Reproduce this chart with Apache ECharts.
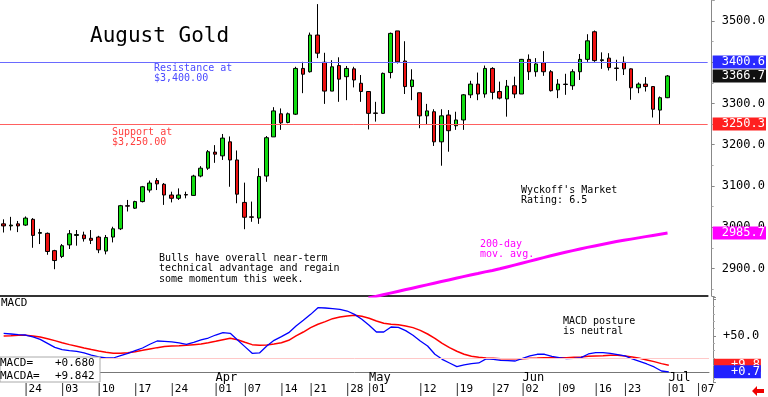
<!DOCTYPE html>
<html>
<head>
<meta charset="utf-8">
<script src="https://cdn.jsdelivr.net/npm/echarts@6/dist/echarts.min.js"></script>
<style>
html,body{margin:0;padding:0;background:#fff;}
#main{width:768px;height:397px;}
</style>
</head>
<body>
<div id="main"></div>
<script>
// trading days (future weekdays at the end are empty slots)
var dates = ['02-19','02-20','02-21','02-24','02-25','02-26','02-27','02-28',
	'03-03','03-04','03-05','03-06','03-07','03-10','03-11','03-12','03-13','03-14','03-17','03-18','03-19','03-20','03-21','03-24','03-25','03-26','03-27','03-28','03-31',
	'04-01','04-02','04-03','04-04','04-07','04-08','04-09','04-10','04-11','04-14','04-15','04-16','04-17','04-21','04-22','04-23','04-24','04-25','04-28','04-29','04-30',
	'05-01','05-02','05-05','05-06','05-07','05-08','05-09','05-12','05-13','05-14','05-15','05-16','05-19','05-20','05-21','05-22','05-23','05-27','05-28','05-29','05-30',
	'06-02','06-03','06-04','06-05','06-06','06-09','06-10','06-11','06-12','06-13','06-16','06-17','06-18','06-20','06-23','06-24','06-25','06-26','06-27','06-30',
	'07-01','07-02','07-03','07-04','07-07','07-08'];

var opens = [3008,3003,3008,3005,3019,2985,2985,2943,2929,2957,2980,2981,2973,2976,2942,2976,2996,3052,3046,3062,
	3090,3113,3104,3078,3070,3079,3077,3124,3143,3182,3173,3207,3163,3060,3025,3022,3124,3219,3275,3254,
	3274,3385,3377,3466,3400,3330,3392,3365,3384,3349,3329,3277,3276,3375,3476,3403,3341,3326,3270,3280,
	3207,3272,3246,3260,3321,3347,3323,3385,3329,3311,3343,3323,3407,3377,3399,3377,3333,3347,3343,3377,
	3407,3474,3404,3410,3386,3400,3384,3338,3347,3341,3284,3314];
var highs = [3019,3025,3015,3026,3022,2996,2987,2945,2959,2993,2993,2989,2993,2979,2981,3001,3054,3066,3064,3100,
	3113,3119,3107,3086,3094,3086,3127,3148,3187,3199,3226,3220,3186,3108,3062,3143,3221,3291,3288,3278,
	3389,3401,3472,3541,3423,3405,3412,3391,3389,3369,3330,3304,3375,3472,3476,3451,3383,3326,3299,3286,
	3286,3284,3280,3323,3355,3375,3392,3388,3353,3357,3365,3408,3419,3410,3427,3381,3359,3372,3383,3420,
	3468,3477,3424,3422,3406,3414,3385,3351,3364,3342,3317,3369];
var lows = [2987,2992,2988,3003,2950,2959,2933,2898,2925,2947,2955,2965,2959,2937,2934,2963,2993,3038,3044,3060,
	3084,3090,3054,3060,3066,3070,3076,3121,3139,3156,3163,3098,3058,2995,3013,3008,3110,3219,3236,3252,
	3272,3325,3375,3410,3299,3330,3304,3308,3339,3304,3237,3256,3275,3361,3397,3323,3308,3240,3248,3197,
	3149,3183,3236,3236,3313,3308,3314,3310,3310,3268,3313,3323,3357,3365,3367,3329,3313,3321,3333,3357,
	3401,3401,3384,3380,3355,3369,3309,3325,3329,3266,3250,3313];
var closes = [3003,3005,3003,3022,2980,2987,2941,2919,2955,2984,2982,2972,2968,2945,2975,2996,3052,3051,3062,3098,
	3107,3105,3078,3070,3078,3078,3124,3143,3183,3177,3216,3163,3080,3024,3024,3123,3217,3282,3253,3275,
	3385,3371,3466,3422,3330,3389,3359,3385,3357,3329,3276,3276,3373,3470,3401,3341,3357,3270,3282,3207,
	3270,3234,3260,3321,3347,3323,3385,3327,3313,3342,3323,3407,3377,3396,3377,3331,3347,3346,3377,3407,
	3452,3404,3406,3387,3385,3384,3338,3347,3341,3286,3314,3366.7];

// 200-day moving average, starts at index ma200Start
var ma200Start = 50;
var ma200 = [2828,2832,2836,2840,2844,2848,2852,2856,2860,2864,2868,2872,2876,2880,2884,2887.5,2891.5,2895,2899,2903.5,
	2908,2912.5,2917,2921.5,2926,2930.5,2935,2939,2943,2947,2951,2954.5,2958,2961.5,2965,2968,2971,2974,2977,2980,
	2983,2985.7];

var macd = [53.5,52.6,51.7,51.2,48.5,45.3,39.8,34.3,31.2,29.8,28.9,26.6,23.8,21.1,19.7,19.7,22.9,26.1,29.8,33.4,
	38.5,43.0,42.6,41.7,40.3,38.5,41.2,44.4,47.1,51.2,54.4,53.5,44.4,35.3,26.1,26.6,36.2,43.9,49.0,54.4,
	63.6,71.3,79.5,88.7,88.2,87.3,86.4,84.1,79.5,72.7,64.5,55.3,55.3,62.2,61.7,57.2,50.8,43.0,36.2,24.8,
	17.9,12.9,7.9,10.2,12.0,12.9,18.4,17.9,16.5,16.1,15.6,19.3,22.5,24.8,24.8,22.0,20.2,18.8,19.3,20.2,
	25.2,27.0,27.0,26.1,24.3,22.5,18.4,15.2,11.5,7.4,1.9,0.68];
var macdSignal = [49.9,50.3,50.8,50.8,49.9,48.5,46.2,43.5,40.7,38.0,35.7,33.4,31.2,29.3,27.5,26.1,26.1,27.0,28.4,30.2,
	32.1,33.9,35.3,36.2,36.6,37.1,38.0,38.9,40.7,42.6,44.8,46.7,44.8,41.2,38.0,37.1,37.5,38.9,40.7,43.9,
	49.9,55.3,61.3,65.9,69.5,73.6,75.9,77.3,78.2,76.8,74.1,70.4,67.2,65.9,65.4,63.6,61.3,57.6,52.6,46.7,
	39.8,33.9,28.9,24.8,22.0,20.7,19.7,19.3,18.8,18.8,18.8,18.8,19.3,19.7,20.2,20.2,20.2,20.2,20.7,21.1,
	22.0,22.5,22.9,23.4,23.4,22.5,21.1,19.3,17.0,14.7,12.0,9.84];
var macdRef = 20;

var dayLabels = ['02-24','03-03','03-10','03-17','03-24','04-01','04-07','04-14','04-21','04-28','05-01',
	'05-12','05-19','05-27','06-02','06-09','06-16','06-23','07-01','07-07'];
var monthLabels = {'04-01':'Apr','05-01':'May','06-02':'Jun','07-01':'Jul'};

var resistance = 3400.6, support = 3250.3, lastClose = 3366.7;

var font = '"DejaVu Sans Mono", monospace';
var chart = echarts.init(document.getElementById('main'));

function candleData(){
	var out = [];
	for(var i=0;i<opens.length;i++){
		out.push([opens[i],closes[i],lows[i],highs[i]]);
	}
	return out;
}
function maData(){
	var out = [];
	for(var i=0;i<ma200.length;i++) out.push([ma200Start+i, ma200[i]]);
	return out;
}
function isDayLabel(i, v){ return dayLabels.indexOf(v) >= 0; }
// value box on the right axis
function sideBox(value, text, bg, lineColor, padLeft){
	return {
		yAxis: value,
		lineStyle: {color: lineColor || 'rgba(0,0,0,0)', width: 1, type: 'solid'},
		label: {
			show: true, position: 'end', distance: 5,
			formatter: text, color: '#fff', backgroundColor: bg,
			fontFamily: font, fontSize: 12, lineHeight: 12,
			padding: [1, 1, 0, padLeft]
		}
	};
}
function txt(x, y, text, color, size, lh){
	return {
		type: 'text', x: x, y: y, silent: true,
		style: {text: text, fill: color || '#000', font: (size||10)+'px '+font, lineHeight: lh || 10.6, verticalAlign: 'top'}
	};
}

var option = {
	animation: false,
	backgroundColor: '#fff',
	grid: [
		{left: 0, right: 59, top: 0, height: 296},
		{left: 0, right: 59, top: 297, height: 85}
	],
	xAxis: [
		{type: 'category', gridIndex: 0, data: dates, boundaryGap: true,
			axisLine: {show: true, lineStyle: {color: '#333', width: 2}},
			axisTick: {show: false}, axisLabel: {show: false}},
		{type: 'category', gridIndex: 1, data: dates, boundaryGap: true,
			axisLine: {show: true, lineStyle: {color: '#777'}},
			axisTick: {show: false},
			// tick bar drawn in front of each date label
			axisLabel: {show: true, margin: 1, align: 'left',
				fontFamily: font, fontSize: 11, color: '#000',
				interval: isDayLabel,
				formatter: function(v){ return '{b|}{d|' + v.slice(3) + '}'; },
				rich: {
					b: {width: 1, height: 13, backgroundColor: '#333'},
					d: {fontFamily: font, fontSize: 11, color: '#000', padding: [0,0,0,2]}
				}}},
		{type: 'category', gridIndex: 1, data: dates, boundaryGap: true, position: 'bottom',
			axisLine: {show: false}, axisTick: {show: false},
			axisLabel: {show: true, inside: true, margin: -2, align: 'left',
				fontFamily: font, fontSize: 12, color: '#000',
				interval: function(i, v){ return !!monthLabels[v]; },
				formatter: function(v){ return monthLabels[v] || ''; }}}
	],
	yAxis: [
		{type: 'value', gridIndex: 0, position: 'right', offset: 4, min: 2833, max: 3551, splitNumber: 7,
			splitLine: {show: false},
			axisLine: {show: true, lineStyle: {color: '#888'}},
			axisTick: {show: true, length: 3, lineStyle: {color: '#888'}},
			minorTick: {show: true, splitNumber: 2, length: 2, lineStyle: {color: '#aaa'}},
			axisLabel: {margin: 10, fontFamily: font, fontSize: 12, color: '#000',
				formatter: function(v){ return v % 100 ? '' : v.toFixed(1); }}},
		{type: 'value', gridIndex: 1, position: 'right', offset: 4, min: -13.2, max: 103.3, splitNumber: 2,
			splitLine: {show: false},
			axisLine: {show: true, lineStyle: {color: '#888'}},
			axisTick: {show: true, length: 3, lineStyle: {color: '#888'}},
			minorTick: {show: true, splitNumber: 5, length: 2, lineStyle: {color: '#aaa'}},
			axisLabel: {margin: 10, fontFamily: font, fontSize: 12, color: '#000',
				formatter: function(v){ return v === 50 ? '+50.0' : ''; }}}
	],
	series: [
		{
			type: 'candlestick', xAxisIndex: 0, yAxisIndex: 0,
			data: candleData(), barWidth: 4,
			itemStyle: {color: '#11dd11', color0: '#ee1111', borderColor: '#000', borderColor0: '#000', borderColorDoji: '#000', borderWidth: 1},
			markLine: {
				silent: true, symbol: 'none', animation: false,
				data: [
					sideBox(support, support.toFixed(1), '#ff2020', '#ff6060', 9),
					sideBox(resistance, resistance.toFixed(1), '#2a2aff', '#6a6aff', 9),
					sideBox(lastClose, lastClose.toFixed(1), '#111', null, 9)
				]
			}
		},
		{
			type: 'line', xAxisIndex: 0, yAxisIndex: 0, data: maData(),
			symbol: 'none', lineStyle: {color: '#ff00ff', width: 3}, itemStyle: {color: '#ff00ff'},
			markLine: {
				silent: true, symbol: 'none', animation: false,
				data: [sideBox(ma200[ma200.length-1], ma200[ma200.length-1].toFixed(1), '#ff00ff', null, 9)]
			}
		},
		{
			type: 'line', xAxisIndex: 1, yAxisIndex: 1, data: macdSignal,
			symbol: 'none', lineStyle: {color: '#ff0000', width: 1.5}, itemStyle: {color: '#ff0000'},
			markLine: {
				silent: true, symbol: 'none', animation: false,
				data: [
					{yAxis: macdRef, lineStyle: {color: '#ffc8c8', width: 1, type: 'solid'}, label: {show: false}},
					sideBox(macdSignal[macdSignal.length-1], '+9.8', '#ff2020', null, 17)
				]
			}
		},
		{
			type: 'line', xAxisIndex: 1, yAxisIndex: 1, data: macd,
			symbol: 'none', lineStyle: {color: '#0000ff', width: 1.3}, itemStyle: {color: '#0000ff'},
			markLine: {
				silent: true, symbol: 'none', animation: false,
				data: [sideBox(macd[macd.length-1], '+0.7', '#2020ff', null, 17)]
			}
		}
	],
	graphic: [
		txt(90, 25, 'August Gold', '#000', 21, 24),
		txt(154, 63, 'Resistance at\n$3,400.00', '#4a4aff'),
		txt(112, 127, 'Support at\n$3,250.00', '#ff4040'),
		txt(159, 253, 'Bulls have overall near-term\ntechnical advantage and regain\nsome momentum this week.', '#000'),
		txt(521, 185, "Wyckoff's Market\nRating: 6.5", '#000'),
		txt(480, 239, '200-day\nmov. avg.', '#ff00ff'),
		txt(1, 297, 'MACD', '#000', 11, 12),
		txt(563, 316, 'MACD posture\nis neutral', '#000'),
		{type: 'rect', shape: {x: 0, y: 357, width: 100, height: 25}, style: {fill: '#fff', stroke: '#aaa', lineWidth: 1}, z: 10},
		{type: 'text', x: 0, y: 357, z: 11, style: {text: 'MACD=\nMACDA=', fill: '#000', font: '11px '+font, lineHeight: 12.5, verticalAlign: 'top'}},
		{type: 'text', x: 55, y: 357, z: 11, style: {text: '+0.680\n+9.842', fill: '#000', font: '11px '+font, lineHeight: 12.5, verticalAlign: 'top'}},
		{type: 'polygon', shape: {points: [[752,391],[757,386],[757,389],[764,389],[764,393],[757,393],[757,396]]}, style: {fill: '#ee0000'}}
	]
};
chart.setOption(option);
</script>
</body>
</html>
